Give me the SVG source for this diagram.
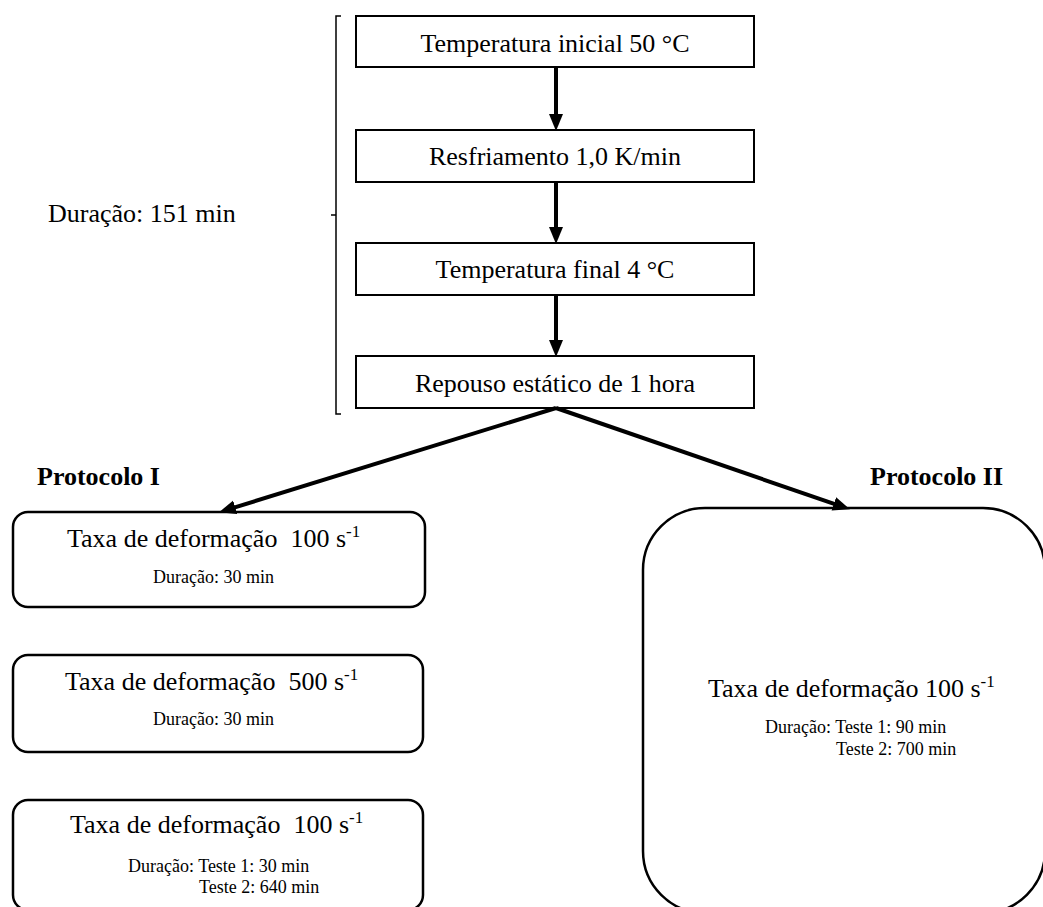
<svg xmlns="http://www.w3.org/2000/svg" width="1043" height="907" viewBox="0 0 1043 907">
<style>
text{font-family:"Liberation Serif","Times New Roman",serif;fill:#000}
.t{font-size:26px}
.s{font-size:18px}
.sup{font-size:17px}
.b{font-size:26px;font-weight:bold}
.box{fill:#fff;stroke:#000;stroke-width:2}
.rbox{fill:#fff;stroke:#000;stroke-width:2.5}
.arr{stroke:#000;stroke-width:4;fill:none;marker-end:url(#ah)}
.br{stroke:#000;stroke-width:1.5;fill:none}
</style>
<defs>
<marker id="ah" markerUnits="userSpaceOnUse" markerWidth="18" markerHeight="16" refX="8" refY="7" orient="auto">
<path d="M0,0 L17,7 L0,14 z" fill="#000"/>
</marker>
</defs>
<rect width="1043" height="907" fill="#fff"/>
<g id="bracket">
<path class="br" d="M341,16 H336 V414 H341 M336,215 H331"/>
<text class="t" x="48" y="222">Duração: 151 min</text>
</g>
<g id="n1">
<rect class="box" x="356" y="16" width="398" height="51"/>
<text class="t" x="555" y="52" text-anchor="middle">Temperatura inicial 50 °C</text>
</g>
<g id="n2">
<rect class="box" x="356" y="130" width="398" height="52"/>
<text class="t" x="555" y="165" text-anchor="middle">Resfriamento 1,0 K/min</text>
</g>
<g id="n3">
<rect class="box" x="356" y="243" width="398" height="52"/>
<text class="t" x="555" y="278" text-anchor="middle">Temperatura final 4 °C</text>
</g>
<g id="n4">
<rect class="box" x="356" y="356" width="398" height="52"/>
<text class="t" x="555" y="392" text-anchor="middle">Repouso estático de 1 hora</text>
</g>
<g id="labels">
<text class="b" x="37" y="485">Protocolo I</text>
<text class="b" x="870" y="485">Protocolo II</text>
</g>
<g id="p1a">
<rect class="rbox" x="13" y="512" width="412" height="95" rx="15"/>
<text class="t" x="67" y="547" xml:space="preserve">Taxa de deformação  100 s<tspan class="sup" dy="-10">-1</tspan></text>
<text class="s" x="153" y="583">Duração: 30 min</text>
</g>
<g id="p1b">
<rect class="rbox" x="13" y="655" width="410" height="97" rx="15"/>
<text class="t" x="65" y="690" xml:space="preserve">Taxa de deformação  500 s<tspan class="sup" dy="-10">-1</tspan></text>
<text class="s" x="153" y="725">Duração: 30 min</text>
</g>
<g id="p1c">
<rect class="rbox" x="13" y="800" width="410" height="110" rx="15"/>
<text class="t" x="70" y="833" xml:space="preserve">Taxa de deformação  100 s<tspan class="sup" dy="-10">-1</tspan></text>
<text class="s" x="128" y="872">Duração: Teste 1: 30 min</text>
<text class="s" x="199" y="893">Teste 2: 640 min</text>
</g>
<g id="p2">
<rect class="rbox" x="643" y="508" width="402" height="405" rx="62"/>
<text class="t" x="708" y="697">Taxa de deformação 100 s<tspan class="sup" dy="-10">-1</tspan></text>
<text class="s" x="765" y="733">Duração: Teste 1: 90 min</text>
<text class="s" x="836" y="755">Teste 2: 700 min</text>
</g>
<g id="connectors">
<line class="arr" x1="556" y1="67" x2="556" y2="122"/>
<line class="arr" x1="556" y1="182" x2="556" y2="235"/>
<line class="arr" x1="556" y1="295" x2="556" y2="348"/>
<line class="arr" x1="556" y1="408" x2="227.6" y2="509.6"/>
<line class="arr" x1="556" y1="408" x2="841.4" y2="506.4"/>
</g>
</svg>
